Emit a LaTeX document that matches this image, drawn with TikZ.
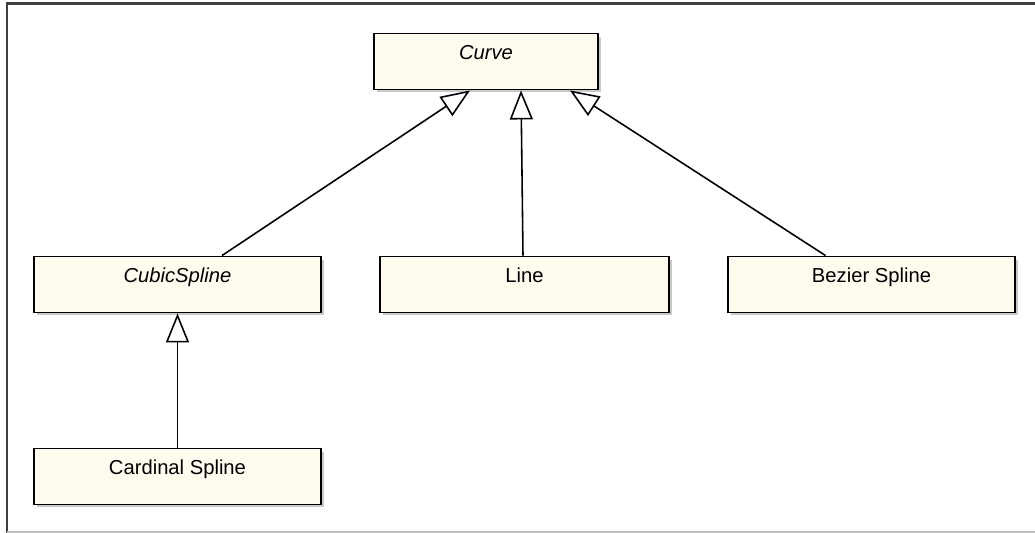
\documentclass[tikz,border=0pt]{standalone}
\usepackage{fontspec}
\setmainfont{Liberation Sans}
\usetikzlibrary{arrows.meta,shadows}

\definecolor{classfill}{RGB}{255,251,239}

\begin{document}
\begin{tikzpicture}[x=0.02cm,y=-0.02cm,
    classbox/.style={draw=black, line width=1.1pt, fill=classfill,
        minimum height=1.12cm, inner ysep=0pt,
        text height=0.53cm, text depth=0.59cm,
        font=\fontsize{11.5}{13}\selectfont,
        drop shadow={shadow xshift=0.06cm, shadow yshift=-0.06cm, fill=gray!60, opacity=0.7}},
    inherit/.style={line width=0.9pt,
        -{Triangle[length=0.58cm, width=0.46cm, fill=white, line width=0.9pt]}}]
%\draw[step=50,gray,very thin] (0,0) grid (1035,533); %background grid
\useasboundingbox (0,0) rectangle (1035,533);

%frame
\draw[line width=1.3pt, black!75] (7,533) -- (7,3.5) -- (1035,3.5);
\draw[line width=1pt, black!25] (7,532) -- (1035,532);

%classes
\node[classbox, minimum width=4.48cm] (curve) at (486,61.5) {\itshape Curve};
\node[classbox, minimum width=5.74cm] (cubic) at (177.5,284.5) {\itshape CubicSpline};
\node[classbox, minimum width=5.78cm] (line) at (524.5,284.5) {Line};
\node[classbox, minimum width=5.74cm] (bezier) at (871.5,284.5) {Bezier Spline};
\node[classbox, minimum width=5.74cm] (cardinal) at (177.5,476.5) {Cardinal Spline};

%generalisations
\draw[inherit] ([xshift=0.89cm]cubic.north) -- ([xshift=-0.32cm]curve.south);
\draw[inherit] ([xshift=-0.03cm]line.north) -- ([xshift=0.7cm]curve.south);
\draw[inherit] ([xshift=-0.92cm]bezier.north) -- ([xshift=1.68cm]curve.south);
\draw[inherit] (cardinal.north) -- (cubic.south);

\end{tikzpicture}
\end{document}
